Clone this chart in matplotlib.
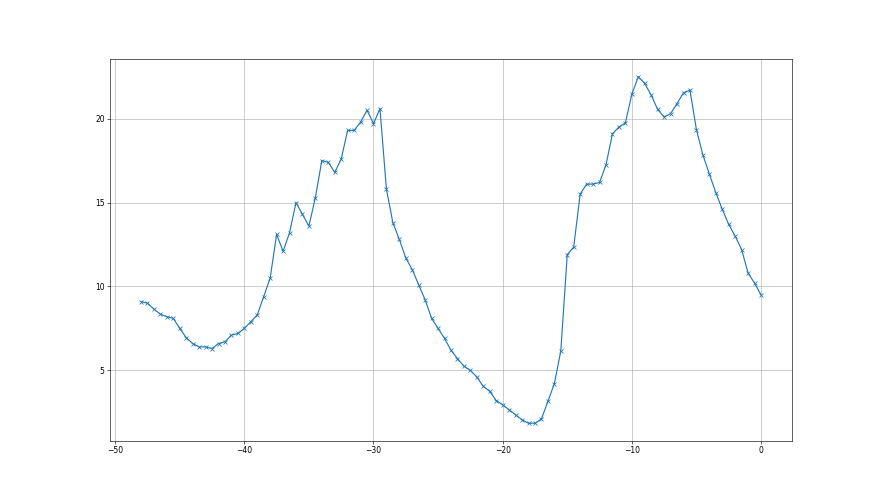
import numpy as np
import matplotlib
matplotlib.use("Agg")
import matplotlib.pyplot as plt

# x positions: every half step from -48 to 0
x_values = [
    -48.0, -47.5, -47.0, -46.5, -46.0, -45.5, -45.0, -44.5, -44.0, -43.5,
    -43.0, -42.5, -42.0, -41.5, -41.0, -40.5, -40.0, -39.5, -39.0, -38.5,
    -38.0, -37.5, -37.0, -36.5, -36.0, -35.5, -35.0, -34.5, -34.0, -33.5,
    -33.0, -32.5, -32.0, -31.5, -31.0, -30.5, -30.0, -29.5, -29.0, -28.5,
    -28.0, -27.5, -27.0, -26.5, -26.0, -25.5, -25.0, -24.5, -24.0, -23.5,
    -23.0, -22.5, -22.0, -21.5, -21.0, -20.5, -20.0, -19.5, -19.0, -18.5,
    -18.0, -17.5, -17.0, -16.5, -16.0, -15.5, -15.0, -14.5, -14.0, -13.5,
    -13.0, -12.5, -12.0, -11.5, -11.0, -10.5, -10.0, -9.5, -9.0, -8.5,
    -8.0, -7.5, -7.0, -6.5, -6.0, -5.5, -5.0, -4.5, -4.0, -3.5,
    -3.0, -2.5, -2.0, -1.5, -1.0, -0.5, 0.0,
]

y_values = [
    9.1, 9.0, 8.65, 8.35, 8.2, 8.1, 7.5, 6.95, 6.6, 6.4,
    6.4, 6.3, 6.6, 6.7, 7.1, 7.2, 7.5, 7.9, 8.3, 9.4,
    10.5, 13.1, 12.1, 13.2, 15.0, 14.3, 13.6, 15.3, 17.5, 17.4,
    16.8, 17.6, 19.3, 19.3, 19.8, 20.5, 19.7, 20.6, 15.8, 13.8,
    12.8, 11.7, 11.0, 10.1, 9.2, 8.1, 7.5, 6.9, 6.2, 5.7,
    5.25, 5.0, 4.6, 4.05, 3.75, 3.2, 2.95, 2.65, 2.35, 2.05,
    1.85, 1.85, 2.1, 3.15, 4.2, 6.15, 11.9, 12.35, 15.5, 16.1,
    16.1, 16.2, 17.25, 19.1, 19.5, 19.75, 21.45, 22.5, 22.1, 21.4,
    20.55, 20.1, 20.3, 20.9, 21.55, 21.7, 19.35, 17.85, 16.7, 15.6,
    14.6, 13.7, 13.0, 12.2, 10.8, 10.2, 9.5,
]

fig, ax = plt.subplots(figsize=(16, 9), dpi=55)
ax.plot(x_values, y_values, marker="x", color="#1f77b4")
ax.grid(True)
fig.savefig("out.png", dpi=55)
